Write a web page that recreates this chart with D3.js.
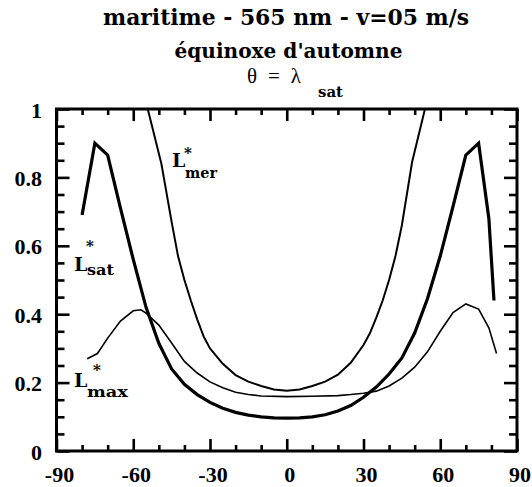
<!DOCTYPE html>
<html>
<head>
<meta charset="utf-8">
<script src="https://cdn.jsdelivr.net/npm/d3@7"></script>
<style>
  html, body { margin: 0; padding: 0; background: #fff; }
  svg { display: block; }
  .serif { font-family: "DejaVu Serif", "Liberation Serif", "Noto Serif", "FreeSerif", "Times New Roman", serif; font-weight: bold; }
  .times { font-family: "Liberation Serif", "Times New Roman", "DejaVu Serif", "Noto Serif", serif; }
</style>
</head>
<body>
<script>
// Latitude grid (degrees) and normalised radiance for each curve
const satLat = [-80, -75, -70, -65, -60, -55, -50, -45, -40, -35, -30, -25, -20, -15, -10, -5, 0,
                5, 10, 15, 20, 25, 30, 35, 40, 45, 50, 55, 60, 65, 70, 75, 79, 81];
const satVal = [0.69, 0.90, 0.865, 0.71, 0.56, 0.42, 0.315, 0.24, 0.195, 0.165, 0.142, 0.125, 0.113, 0.105, 0.10, 0.097, 0.096,
                0.097, 0.10, 0.106, 0.117, 0.133, 0.157, 0.187, 0.225, 0.272, 0.345, 0.445, 0.57, 0.715, 0.865, 0.90, 0.68, 0.44];

const merLat = [-55, -49, -45, -42.5, -40, -37.5, -35, -32.5, -30, -25, -20, -15, -10, -5, 0,
                5, 10, 15, 20, 25, 30, 32.5, 35, 37.5, 40, 42.5, 45, 49, 55];
const merVal = [1.02, 0.84, 0.67, 0.57, 0.50, 0.44, 0.385, 0.335, 0.30, 0.255, 0.222, 0.203, 0.19, 0.18, 0.176,
                0.18, 0.19, 0.203, 0.223, 0.258, 0.31, 0.344, 0.39, 0.44, 0.50, 0.57, 0.66, 0.845, 1.03];

const maxLat = [-78, -74, -70, -65, -60, -57, -55, -50, -45, -40, -35, -30, -25, -20, -15, -10, 0,
                10, 20, 25, 30, 35, 40, 45, 50, 55, 60, 65, 70, 75, 79, 82];
const maxVal = [0.27, 0.285, 0.33, 0.38, 0.41, 0.413, 0.403, 0.368, 0.316, 0.262, 0.228, 0.202, 0.185, 0.172, 0.165, 0.161, 0.159,
                0.16, 0.162, 0.165, 0.169, 0.175, 0.19, 0.213, 0.245, 0.29, 0.35, 0.405, 0.43, 0.415, 0.36, 0.285];

const xMajor = [-90, -60, -30, 0, 30, 60, 90];
const xMinor = d3.range(-80, 90, 10).filter(v => v % 30 !== 0);
const yMajor = [0, 0.2, 0.4, 0.6, 0.8, 1];
const yMinor = d3.range(0.05, 1, 0.05).filter(v => Math.abs(v * 5 - Math.round(v * 5)) > 1e-6);
const yLabels = ["0", "0.2", "0.4", "0.6", "0.8", "1"];

const titleLines = ["maritime - 565 nm - v=05 m/s", "équinoxe d'automne"];

const W = 532, H = 487;
const plot = { left: 56.5, right: 517, top: 109, bottom: 451 };

const x = d3.scaleLinear().domain([-90, 90]).range([plot.left, plot.right]);
const y = d3.scaleLinear().domain([0, 1]).range([plot.bottom, plot.top]);

const svg = d3.select("body").append("svg").attr("width", W).attr("height", H);

// Title block
svg.append("text").attr("class", "serif").attr("x", 286).attr("y", 25).attr("text-anchor", "middle")
  .style("font-size", "23px")
  .attr("textLength", 366).attr("lengthAdjust", "spacingAndGlyphs")
  .text(titleLines[0]);
svg.append("text").attr("class", "serif").attr("x", 288.5).attr("y", 58).attr("text-anchor", "middle")
  .style("font-size", "21px")
  .attr("textLength", 228).attr("lengthAdjust", "spacingAndGlyphs")
  .text(titleLines[1]);
// θ = λ_sat
svg.append("text").attr("class", "times").attr("x", 247).attr("y", 83)
  .style("font-size", "21px")
  .attr("textLength", 54).attr("lengthAdjust", "spacing")
  .text("θ = λ");
svg.append("text").attr("class", "serif").attr("x", 318).attr("y", 97)
  .style("font-size", "14px")
  .attr("textLength", 25).attr("lengthAdjust", "spacingAndGlyphs").text("sat");

// Clip region for curves
svg.append("clipPath").attr("id", "plotclip").append("rect")
  .attr("x", plot.left).attr("y", plot.top)
  .attr("width", plot.right - plot.left).attr("height", plot.bottom - plot.top);

const line = d3.line().x(d => x(d[0])).y(d => y(d[1]));
const curves = [
  { lat: merLat, val: merVal, w: 2.0 },
  { lat: maxLat, val: maxVal, w: 1.6 },
  { lat: satLat, val: satVal, w: 3.2 }
];
const g = svg.append("g").attr("clip-path", "url(#plotclip)");
curves.forEach(c => {
  g.append("path")
    .datum(c.lat.map((v, i) => [v, c.val[i]]))
    .attr("d", line)
    .attr("fill", "none").attr("stroke", "#000")
    .attr("stroke-width", c.w).attr("stroke-linejoin", "miter");
});

// Inward ticks on all four sides
function ticks(axisGen, tr, vals, size) {
  const a = svg.append("g").attr("transform", tr)
    .call(axisGen.tickValues(vals).tickSize(size).tickFormat(""));
  a.select(".domain").remove();
  a.selectAll(".tick line").attr("stroke", "#000").attr("stroke-width", 2.6);
  return a;
}
ticks(d3.axisBottom(x), `translate(0,${plot.bottom})`, xMajor, -12);
ticks(d3.axisBottom(x), `translate(0,${plot.bottom})`, xMinor, -6);
ticks(d3.axisTop(x), `translate(0,${plot.top})`, xMajor, -12);
ticks(d3.axisTop(x), `translate(0,${plot.top})`, xMinor, -6);
ticks(d3.axisLeft(y), `translate(${plot.left},0)`, yMajor, -13);
ticks(d3.axisLeft(y), `translate(${plot.left},0)`, yMinor, -8);
ticks(d3.axisRight(y), `translate(${plot.right},0)`, yMajor, -13);
ticks(d3.axisRight(y), `translate(${plot.right},0)`, yMinor, -8);

// Frame
svg.append("rect")
  .attr("x", plot.left).attr("y", plot.top)
  .attr("width", plot.right - plot.left).attr("height", plot.bottom - plot.top)
  .attr("fill", "none").attr("stroke", "#000").attr("stroke-width", 3);

// Tick labels
svg.append("g").selectAll("text").data(xMajor).join("text")
  .attr("class", "times")
  .attr("x", d => x(d) + 3).attr("y", 482)
  .attr("text-anchor", "middle")
  .style("font-weight", "bold").style("font-size", "22px")
  .text(d => String(d));
svg.append("g").selectAll("text").data(yMajor).join("text")
  .attr("class", "times")
  .attr("x", 42).attr("y", d => y(d) + 8.5)
  .attr("text-anchor", "end")
  .style("font-weight", "bold").style("font-size", "22px")
  .text((d, i) => yLabels[i]);

// Curve labels: L* with subscripts
function curveLabel(lx, ly, sub, subDy, subLen, starDx, starDy) {
  svg.append("text").attr("class", "serif").attr("x", lx).attr("y", ly)
    .style("font-size", "19px").text("L");
  svg.append("text").attr("class", "serif").attr("x", lx + starDx).attr("y", ly + starDy)
    .style("font-size", "15px").text("*");
  svg.append("text").attr("class", "serif").attr("x", lx + 13).attr("y", ly + subDy)
    .style("font-size", "15px")
    .attr("textLength", subLen).attr("lengthAdjust", "spacingAndGlyphs").text(sub);
}
curveLabel(172, 166.7, "mer", 11, 32, 12, -9);
curveLabel(74, 271, "sat", 4, 27, 12, -20);
curveLabel(74, 387, "max", 10, 41, 19, -12);
</script>
</body>
</html>
